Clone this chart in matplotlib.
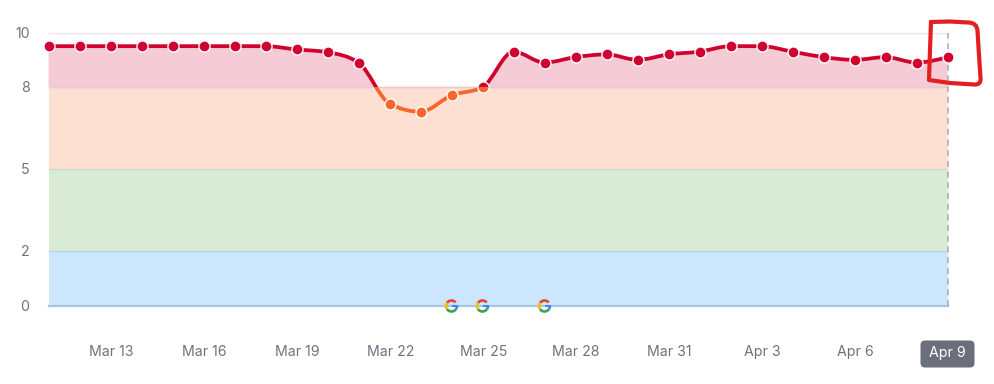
import matplotlib
matplotlib.use("Agg")
import matplotlib.pyplot as plt
import numpy as np
from matplotlib.path import Path
from matplotlib.patches import PathPatch, Rectangle, Wedge, FancyBboxPatch
from matplotlib.transforms import IdentityTransform

plt.rcParams['font.family'] = ['Inter', 'DejaVu Sans']

# ---- data ----
days = ["Mar 11", "Mar 12", "Mar 13", "Mar 14", "Mar 15", "Mar 16", "Mar 17", "Mar 18", "Mar 19", "Mar 20",
        "Mar 21", "Mar 22", "Mar 23", "Mar 24", "Mar 25", "Mar 26", "Mar 27", "Mar 28", "Mar 29", "Mar 30",
        "Mar 31", "Apr 1", "Apr 2", "Apr 3", "Apr 4", "Apr 5", "Apr 6", "Apr 7", "Apr 8", "Apr 9"]
scores = [9.5, 9.5, 9.5, 9.5, 9.5, 9.5, 9.5, 9.5, 9.38, 9.28,
          8.9, 7.4, 7.1, 7.7, 8.0, 9.3, 8.9, 9.1, 9.2, 9.0,
          9.2, 9.3, 9.5, 9.5, 9.3, 9.1, 9.0, 9.1, 8.9, 9.1]
tick_days = ["Mar 13", "Mar 16", "Mar 19", "Mar 22", "Mar 25", "Mar 28", "Mar 31", "Apr 3", "Apr 6"]
last_day = "Apr 9"
y_ticks = [0, 2, 5, 8, 10]
google_days = ["Mar 24", "Mar 25", "Mar 27"]
band_edges = [0, 2, 5, 8]
band_colors = ["#cce7fd", "#d9ebd4", "#fee0d3"]
band_lines = ["#b5d3ec", "#c6dcc4", "#ecd3cb"]

W, H = 994, 384
RED, ORANGE, PINK = "#d0022f", "#f9662c", "#f5ccd6"
TXT = "#6f7280"

fig = plt.figure(figsize=(W / 100, H / 100), dpi=100)
x0, x1, ytop, ybot = 48.5, 947.5, 32.5, 306
ax = fig.add_axes([x0 / W, 1 - ybot / H, (x1 - x0) / W, (ybot - ytop) / H])
ax.set_xlim(0, len(days) - 1)
ax.set_ylim(0, 10)
ax.axis("off")
ax.patch.set_alpha(0)

x = np.arange(len(days), dtype=float)
y = np.array(scores, dtype=float)


def monotone_path(x, y):
    """d3 curveMonotoneX as a Bezier path."""
    h = np.diff(x)
    s = np.diff(y) / h
    t = np.zeros_like(y)
    for i in range(1, len(y) - 1):
        p = (s[i - 1] * h[i] + s[i] * h[i - 1]) / (h[i - 1] + h[i])
        t[i] = (np.sign(s[i - 1]) + np.sign(s[i])) * min(abs(s[i - 1]), abs(s[i]), 0.5 * abs(p))
    t[0] = (3 * s[0] - t[1]) / 2
    t[-1] = (3 * s[-1] - t[-2]) / 2
    verts = [(x[0], y[0])]
    codes = [Path.MOVETO]
    for i in range(len(x) - 1):
        d = h[i] / 3
        verts += [(x[i] + d, y[i] + d * t[i]), (x[i + 1] - d, y[i + 1] - d * t[i + 1]), (x[i + 1], y[i + 1])]
        codes += [Path.CURVE4] * 3
    return verts, codes


verts, codes = monotone_path(x, y)

# bands
for lo, hi, c, lc in zip(band_edges[:-1], band_edges[1:], band_colors, band_lines):
    ax.axhspan(lo, hi, color=c, lw=0, zorder=1)
    ax.axhline(hi, color=lc, lw=0.9, zorder=1.5)
ax.axhline(0, color="#a9c6e0", lw=1.6, zorder=1.6, clip_on=False)
ax.axhline(10, color="#e4e6ec", lw=1.0, zorder=1)
ax.axhline(8, color="#e8e4ea", lw=1.0, zorder=1.2)

above = Rectangle((-2, 8), len(days) + 4, 6, transform=ax.transData)
below = Rectangle((-2, -4), len(days) + 4, 12, transform=ax.transData)

# pink area above 8
area = PathPatch(Path(verts + [(x[-1], 0), (x[0], 0), (x[0], y[0])],
                      codes + [Path.LINETO, Path.LINETO, Path.CLOSEPOLY]),
                 facecolor=PINK, edgecolor="none", zorder=2)
ax.add_patch(area)
area.set_clip_path(above)
ax.axhline(8, color="#ecc9cf", lw=1.0, zorder=2.1)

# dashed cursor line
ax.plot([x[-1], x[-1]], [0, 10], color="#a8abb3", lw=1.1, ls=(0, (4, 3)), zorder=2.5, clip_on=False)

# line + markers in two colours
for clip, col in ((above, RED), (below, ORANGE)):
    ln = PathPatch(Path(verts, codes), facecolor="none", edgecolor=col, lw=2.7, zorder=3, capstyle="round")
    ax.add_patch(ln)
    ln.set_clip_path(clip)

ax.plot(x, y, ls="none", marker="o", ms=9.0, mfc="white", mec="none", zorder=4, clip_on=False)
for clip, col in ((above, RED), (below, ORANGE)):
    m, = ax.plot(x, y, ls="none", marker="o", ms=7.0, mfc=col, mec="none", zorder=5)
    m.set_clip_path(clip)

# tick labels
for v in y_ticks:
    ax.annotate(str(v), (0, v), xytext=(29.5, H - (ybot - v * (ybot - ytop) / 10) - 1), xycoords="data",
                textcoords="figure pixels", ha="right", va="center", fontsize=10.2, color=TXT)
for d in tick_days:
    ax.annotate(d, (days.index(d), 0), xytext=(0.7, -46), xycoords="data", textcoords="offset pixels",
                ha="center", va="center", fontsize=10.2, color=TXT)

# highlighted last date
px = IdentityTransform()
fig.add_artist(FancyBboxPatch((924, H - 364), 47, 20, boxstyle="round,pad=3.5,rounding_size=4.5",
                              facecolor="#6b6e7b", edgecolor="none", transform=px))
fig.text(947.5 / W, 1 - 352.5 / H, last_day, ha="center", va="center", fontsize=10.2, color="white")


# Google marks
def google(cx, cy, r=6.8, w=2.7):
    for a, b, c in ((40, 145, "#ea4335"), (145, 215, "#fbbc05"), (215, 325, "#34a853"), (325, 360, "#4285f4")):
        fig.add_artist(Wedge((cx, cy), r, a, b, width=w, facecolor=c, edgecolor="none", transform=px))
    fig.add_artist(Rectangle((cx, cy - 1.3), r, 2.6, facecolor="#4285f4", edgecolor="none", transform=px))


for d in google_days:
    cx, cy = ax.transData.transform((days.index(d), 0))
    google(cx, cy)

# hand-drawn red box
box_pts = [(931, 22), (950, 21.5), (968, 22.5), (977, 22.5), (977.5, 31), (979, 55), (980.5, 78),
           (981.5, 85), (974, 84.5), (950, 83), (929, 80), (930, 50), (931, 22)]
box_codes = [Path.MOVETO, Path.LINETO, Path.LINETO, Path.CURVE3, Path.CURVE3, Path.LINETO, Path.LINETO,
             Path.CURVE3, Path.CURVE3, Path.LINETO, Path.LINETO, Path.LINETO, Path.LINETO]
fig.add_artist(PathPatch(Path([(a, H - b) for a, b in box_pts], box_codes), facecolor="none",
                         edgecolor="#e3201f", lw=3.0, joinstyle="round", capstyle="round", transform=px))

fig.savefig("out.png", dpi=100, facecolor="white")
